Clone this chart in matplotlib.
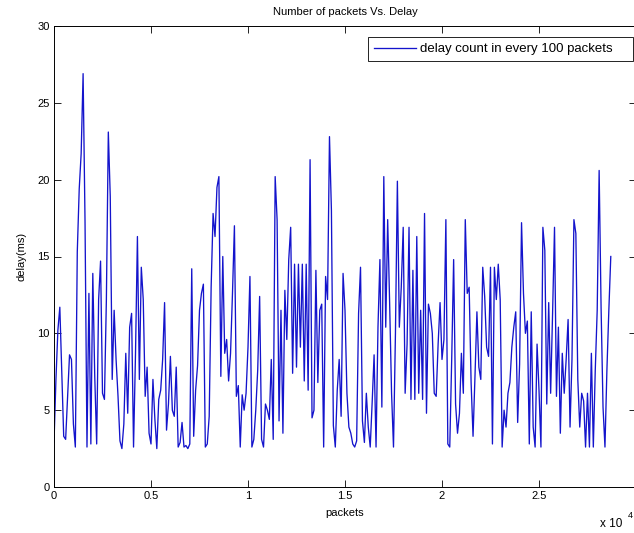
import numpy as np
import matplotlib
matplotlib.use('Agg')
import matplotlib.pyplot as plt

# delay (ms) per block of 100 packets
delay_ms = [
    2.9, 7.0, 10.2, 11.7, 7.5, 3.3, 3.1, 5.8, 8.6, 8.3, 4.1, 2.6, 15.3, 19.4, 21.7, 26.9, 17.2, 2.6,
    12.6, 2.8, 13.9, 7.2, 2.8, 12.2, 14.7, 6.1, 5.7, 12.2, 23.1, 18.9, 7.0, 11.5, 8.3, 5.9, 3.0, 2.5,
    4.1, 8.7, 4.8, 10.4, 11.3, 2.6, 8.6, 16.3, 7.0, 14.3, 12.2, 5.9,
    7.8, 3.5, 2.8, 7.0, 4.4, 2.5, 5.7, 6.3, 8.3, 12.0, 3.7, 5.4, 8.5, 5.0, 4.6, 7.8, 2.6, 2.9,
    4.2, 2.6, 2.7, 2.5, 2.8, 14.2, 3.3, 6.3, 7.9, 11.5, 12.6, 13.2, 2.6, 2.8, 4.6, 13.0, 17.8, 16.3,
    19.5, 20.2, 7.2, 15.0, 8.7, 9.6, 6.9, 8.7, 12.6, 17.0, 5.9, 6.6, 2.6, 6.0, 5.0,
    6.1, 9.1, 13.7, 2.6, 3.1, 5.0, 7.6, 12.4, 3.1, 2.6, 5.4, 5.0, 4.4, 8.3, 3.1, 20.2, 17.4, 4.3,
    11.5, 3.5, 12.8, 9.6, 14.8, 16.9, 7.4, 14.5, 7.8, 14.5, 9.1, 14.5, 6.9, 14.5, 6.3, 21.3, 4.5, 5.0,
    14.1, 6.8, 11.5, 11.9, 2.6, 13.7, 12.2, 22.8, 18.0, 4.0, 2.6, 6.3, 8.3, 4.6, 13.9,
    11.5, 6.1, 3.9, 3.5, 2.8, 2.6, 3.0, 11.3, 14.3, 4.3, 2.9, 6.1, 3.9, 2.6, 5.5, 8.6, 2.6, 10.4,
    14.8, 5.2, 20.2, 10.4, 17.4, 12.0, 6.1, 2.6, 10.0, 19.9, 10.4, 13.0, 16.9, 6.1, 9.3, 16.9, 5.7, 14.1,
    5.7, 16.3, 6.1, 11.5, 5.7, 17.8, 4.8, 11.9, 11.3, 10.0, 6.1, 5.9, 9.3, 12.0,
    8.3, 9.6, 17.4, 2.8, 2.6, 8.3, 14.8, 5.4, 3.5, 4.8, 8.7, 6.1, 17.4, 12.6, 13.0, 6.8, 3.3, 7.2,
    11.4, 7.8, 7.0, 14.3, 12.4, 9.1, 8.5, 14.3, 2.8, 14.3, 12.2, 14.5, 12.2, 2.6, 5.0, 3.9, 6.1, 6.8,
    9.1, 10.4, 11.4, 4.2, 8.0, 17.2, 12.6, 10.0, 10.8, 2.8, 11.4, 3.9, 2.6, 9.3,
    6.3, 2.6, 16.9, 15.4, 5.4, 12.0, 6.1, 11.3, 16.9, 5.9, 10.4, 3.5, 8.7, 6.1, 8.3, 10.9, 3.9, 8.3,
    17.4, 16.5, 7.0, 3.9, 6.1, 5.6, 2.6, 6.1, 2.6, 8.7, 2.6, 7.6, 11.5, 20.6, 11.7, 5.2, 2.6, 7.6,
    11.5, 15.0,
]
block_size = 100
packets = np.arange(len(delay_ms)) * block_size

xtick_vals = [0, 5000, 10000, 15000, 20000, 25000, 30000]
xtick_labels = ['0', '0.5', '1', '1.5', '2', '2.5', '']  # the "3" falls off the picture
ytick_vals = [0, 5, 10, 15, 20, 25, 30]

plt.rcParams['font.family'] = ['Liberation Sans', 'DejaVu Sans']
plt.rcParams['font.size'] = 7.5

fig = plt.figure(figsize=(6.34, 5.33), dpi=100)
W, H = 634.0, 533.0
ax = fig.add_axes([54 / W, (H - 487) / H, (636 - 54) / W, (487 - 26) / H])

ax.plot(packets, delay_ms, color='#1414cc', lw=0.95,
        label='delay count in every 100 packets    ')

ax.set_xlim(0, 30000)
ax.set_ylim(0, 30)
ax.set_xticks(xtick_vals)
ax.set_xticklabels(xtick_labels)
ax.set_yticks(ytick_vals)
ax.tick_params(direction='in', length=5, width=0.6, top=True, right=True,
               labelsize=8, pad=3)
for s in ax.spines.values():
    s.set_linewidth(0.7)

ax.set_title('Number of packets Vs. Delay', fontsize=8, pad=8)
ax.set_xlabel('packets', fontsize=8, labelpad=5)
ax.set_ylabel('delay(ms)', fontsize=8, labelpad=8)

fig.text(600 / W, 1 - 524 / H, 'x 10', fontsize=8.5, ha='left', va='center')
fig.text(628 / W, 1 - 515 / H, '4', fontsize=6.5, ha='left', va='center')

leg = ax.legend(loc='upper right', bbox_to_anchor=(633 / W, 1 - 37 / H),
                bbox_transform=fig.transFigure, fancybox=False, framealpha=1,
                edgecolor='black', fontsize=9.5, borderaxespad=0,
                handlelength=3.2, handletextpad=0.3, borderpad=0.45)
leg.get_frame().set_linewidth(0.6)

fig.savefig('out.png', dpi=100, facecolor='white')
